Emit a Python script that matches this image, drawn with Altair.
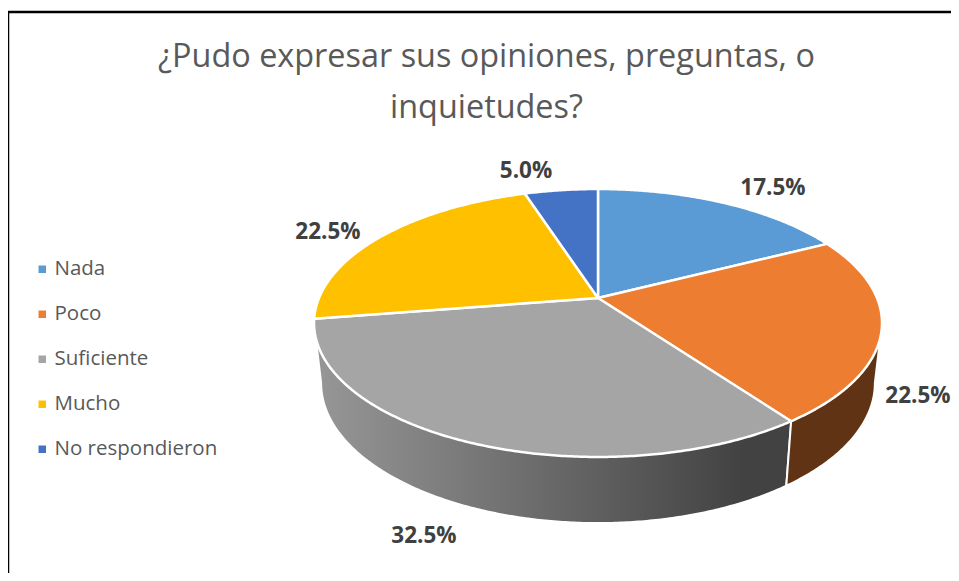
import numpy as np
import pandas as pd
import altair as alt

categories = ["Nada", "Poco", "Suficiente", "Mucho", "No respondieron"]
shares = [17.5, 22.5, 32.5, 22.5, 5.0]
colors = ["#5B9BD5", "#ED7D31", "#A5A5A5", "#FFC000", "#4472C4"]
label_texts = ["17.5%", "22.5%", "32.5%", "22.5%", "5.0%"]
title_lines = ["¿Pudo expresar sus opiniones, preguntas, o", "inquietudes?"]

W, H = 943, 565
FONT = "Open Sans"
CX, APEX_Y, K = 590.0, 290.0, 0.1866     # projection of the tilted disc
A, B = 279.0, 129.3
A2, B2, APEX2_Y = 272.0, 135.1, 349.0    # rim of the underside
TAN = np.degrees(np.arccos(-K))          # silhouette angle


def top(deg):
    t = np.radians(deg)
    d = 1 + K * np.cos(t)
    return CX + A * np.sin(t) / d, APEX_Y - B * np.cos(t) / d


def bottom(deg):
    t = np.radians(deg)
    d = 1 + K * np.cos(t)
    return CX + A2 * np.sin(t) / d, APEX2_Y - B2 * np.cos(t) / d


def steps(a, b):
    return np.linspace(a, b, max(int(abs(b - a) * 2), 2) + 1)


edges = np.cumsum([0] + shares) * 3.6

rows = []
for cat, a, b in zip(categories, edges[:-1], edges[1:]):
    xs, ys = top(steps(a, b))
    pts = [(CX, APEX_Y)] + list(zip(xs, ys)) + [(CX, APEX_Y)]
    rows += [{"cat": cat, "seq": i, "px": p[0], "py": p[1]} for i, p in enumerate(pts)]
surface = pd.DataFrame(rows)


def wall(a, b):
    xb, yb = bottom(steps(a, b))
    pts = list(zip(xb, yb))
    pts = pts + [top(b), (CX, APEX_Y), top(a), pts[0]]
    return pd.DataFrame([{"seq": i, "px": p[0], "py": p[1]} for i, p in enumerate(pts)])


orange_wall = wall(TAN, edges[2])
grey_wall = wall(edges[2], 360 - TAN)

xs = alt.X("px:Q", scale=alt.Scale(domain=[0, W], range=[0, W]), axis=None)
ys = alt.Y("py:Q", scale=alt.Scale(domain=[0, H], range=[0, H]), axis=None)

grey_fill = alt.Gradient(
    gradient="linear", x1=0, x2=1, y1=0, y2=0,
    stops=[
        alt.GradientStop(offset=0, color="#979797"),
        alt.GradientStop(offset=0.3, color="#7B7B7B"),
        alt.GradientStop(offset=0.65, color="#5A5A5A"),
        alt.GradientStop(offset=0.9, color="#424242"),
        alt.GradientStop(offset=1, color="#424242"),
    ],
)

wall_a = alt.Chart(grey_wall).mark_line(fill=grey_fill, stroke="white", strokeWidth=2).encode(
    x=xs, y=ys, order="seq:Q")
wall_b = alt.Chart(orange_wall).mark_line(fill="#5F3314", stroke="white", strokeWidth=2).encode(
    x=xs, y=ys, order="seq:Q")

top_layer = alt.Chart(surface).mark_line(stroke="white", strokeWidth=2.5, strokeJoin="round").encode(
    x=xs, y=ys, order="seq:Q",
    fill=alt.Fill(
        "cat:N",
        scale=alt.Scale(domain=categories, range=colors),
        legend=alt.Legend(
            title=None, orient="none", legendX=24, legendY=251,
            symbolType="square", symbolSize=56, symbolStrokeWidth=0,
            labelFont=FONT, labelFontSize=20.5, labelColor="#595959",
            labelOffset=2, rowPadding=24, labelLimit=300,
        ),
    ),
)

label_df = pd.DataFrame({
    "t": label_texts,
    "px": [765, 910, 416, 320, 518],
    "py": [180, 388, 528, 224, 163],
})
labels = alt.Chart(label_df).mark_text(
    font=FONT, fontSize=22.5, fontWeight="bold", color="#404040"
).encode(x=xs, y=ys, text="t:N")

frame_top = alt.Chart(pd.DataFrame({"a": [0]})).mark_rule(color="black", strokeWidth=2.5).encode(
    x=alt.value(0), x2=alt.value(W), y=alt.value(4))
frame_left = alt.Chart(pd.DataFrame({"a": [0]})).mark_rule(color="black", strokeWidth=1.5).encode(
    x=alt.value(0.5), y=alt.value(4), y2=alt.value(H))

chart = alt.layer(wall_a, wall_b, top_layer, labels, frame_top, frame_left).properties(
    width=W, height=H, padding=0,
    autosize=alt.AutoSizeParams(type="none"),
    title=alt.TitleParams(
        text=title_lines, font=FONT, fontSize=32.4, fontWeight="normal", color="#595959",
        anchor="middle", dx=7, dy=116, lineHeight=51, offset=0,
    ),
).configure_view(stroke=None)

chart.save("out.html", embed_options={"renderer": "svg", "actions": False})
